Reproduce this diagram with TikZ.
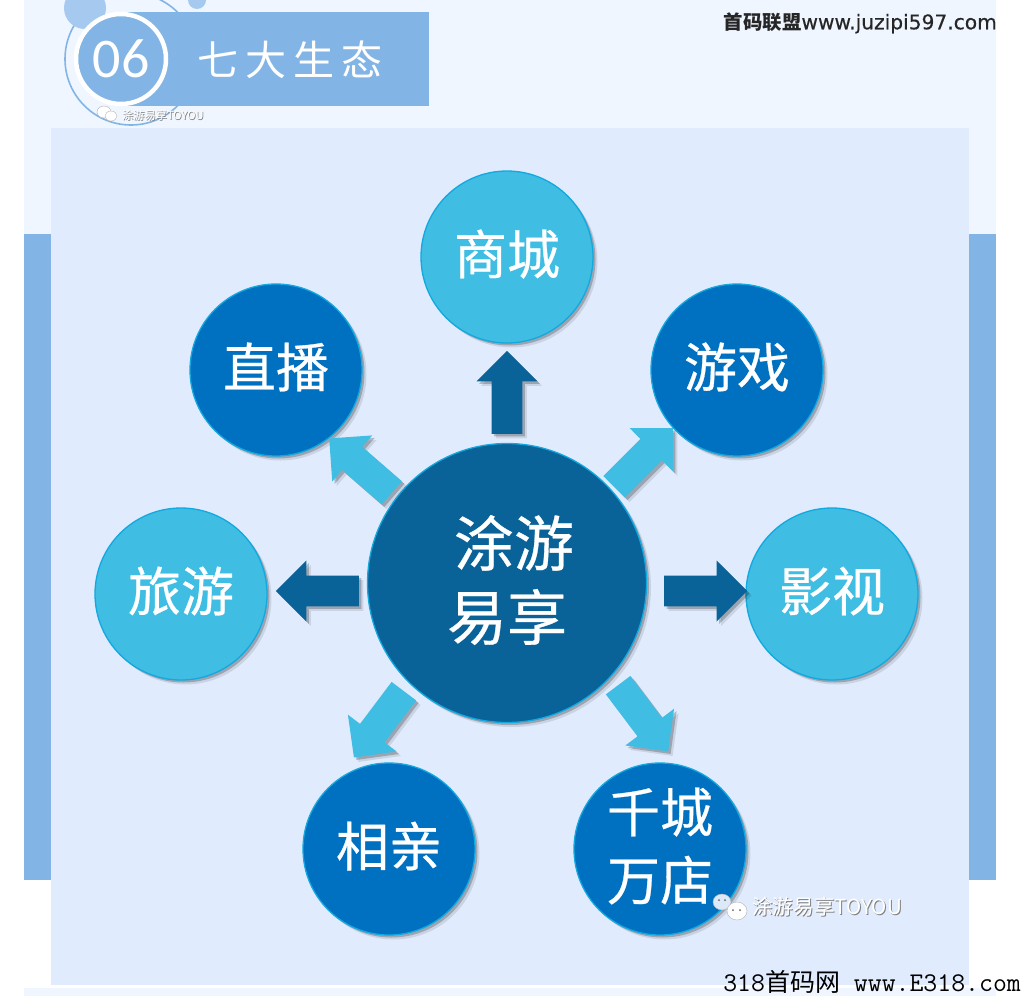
\documentclass[tikz,border=0pt]{standalone}
\usepackage{fontspec}
\setmainfont{Carlito}
\newfontfamily\cjkfont{Noto Sans CJK SC}
\newfontfamily\cjkmid[FakeBold=0.5]{Noto Sans CJK SC}
\newfontfamily\urlfont[FakeBold=0.4]{DejaVu Sans}
\usetikzlibrary{shapes.arrows,shadows}
\definecolor{pagepale}{HTML}{EFF6FF}
\definecolor{panelblue}{HTML}{E0ECFD}
\definecolor{bandblue}{HTML}{82B5E5}
\definecolor{blobblue}{HTML}{A5C9EF}
\definecolor{hubblue}{HTML}{0A6398}
\definecolor{skyblue}{HTML}{3FBDE3}
\definecolor{midblue}{HTML}{0070C0}
\definecolor{rimblue}{HTML}{12A8E0}
\tikzset{
  softshadow/.style={
    drop shadow={shadow xshift=4.5pt,shadow yshift=-4.5pt,fill=black,opacity=0.1},
    drop shadow={shadow xshift=2.5pt,shadow yshift=-2.5pt,fill=black,opacity=0.22}},
  bubble/.style={circle,draw=rimblue,line width=1.3pt,inner sep=0pt,minimum size=172pt,softshadow},
  bubbletext/.style={text=white,align=center,inner sep=0pt,yshift=3pt,font=\cjkmid\fontsize{53}{68}\selectfont},
  hubtext/.style={bubbletext,font=\cjkmid\fontsize{60}{74}\selectfont},
  blockarrow/.style={single arrow,anchor=tail,inner xsep=0pt,inner ysep=15pt,minimum width=61pt,
    single arrow head extend=15pt,single arrow tip angle=90,minimum height=83pt,softshadow},
  wmback/.style={inner sep=0pt,anchor=west,text=black!50},
  wmfront/.style={inner sep=0pt,anchor=west,text=white},
  chat/.style={fill=white,draw=black!30,line width=0.4pt},
}
\begin{document}
\begin{tikzpicture}[x=1pt,y=-1pt]
  \useasboundingbox (0,0) rectangle (1022,996);
  % backdrop
  \fill[white] (0,0) rectangle (1022,996);
  \fill[pagepale] (24,0) rectangle (996,234);
  \fill[bandblue] (24,234) rectangle (996,880);
  \fill[pagepale] (24,988) rectangle (996,996);
  \fill[panelblue] (51,128) rectangle (969,985);
  % header badge
  \draw[bandblue,line width=1.6pt] (131,59) circle (66);
  \fill[blobblue] (85,8) circle (21);
  \fill[blobblue] (197,0) circle (9);
  \fill[bandblue] (121,12) rectangle (429,106);
  \node[circle,draw=white,line width=4.5pt,fill=bandblue,minimum size=90pt,inner sep=0pt,
    text=white,font=\fontsize{56}{56}\selectfont] (badge) at (121,59) {06};
  \node[inner sep=0pt,text=white,font=\cjkfont\fontsize{41}{41}\selectfont] (title) at (290,60) {七\hspace{7pt}大\hspace{7pt}生\hspace{7pt}态};
  % hub
  \node[bubble,fill=hubblue,minimum size=279pt,label={[hubtext]center:\hspace{14pt}涂游\\易享}] (hub) at (507,583) {};
  % spokes
  \node[bubble,fill=skyblue,label={[bubbletext]center:商城}] (shop) at (507,257) {};
  \node[bubble,fill=midblue,label={[bubbletext]center:直播}] (live) at (276,370) {};
  \node[bubble,fill=midblue,label={[bubbletext]center:游戏}] (game) at (737,370) {};
  \node[bubble,fill=skyblue,label={[bubbletext]center:旅游}] (trip) at (181,594) {};
  \node[bubble,fill=skyblue,label={[bubbletext]center:影视}] (film) at (832,594) {};
  \node[bubble,fill=midblue,label={[bubbletext]center:相亲}] (date) at (389,849) {};
  \node[bubble,fill=midblue,label={[bubbletext]center:千城\\万店}] (store) at (660,849) {};
  % block arrows
  \node[blockarrow,fill=hubblue,rotate=90] (toshop) at (507,434) {};
  \node[blockarrow,fill=hubblue,rotate=180] (totrip) at (359,591) {};
  \node[blockarrow,fill=hubblue] (tofilm) at (664,591) {};
  \node[blockarrow,fill=skyblue,rotate=139] (tolive) at (392,493) {};
  \node[blockarrow,fill=skyblue,rotate=45] (togame) at (614,487) {};
  \node[blockarrow,fill=skyblue,rotate=233] (todate) at (404,691) {};
  \node[blockarrow,fill=skyblue,rotate=-53] (tostore) at (618,685) {};
  % watermark, top
  \draw[chat] (104,112) ellipse (7 and 6);
  \draw[chat] (111,116) ellipse (6 and 5);
  \node[wmback,font=\cjkfont\fontsize{11.2}{12}\selectfont] (wmtopback) at (122.8,115.8) {涂游易享TOYOU};
  \node[wmfront,font=\cjkfont\fontsize{11.2}{12}\selectfont] (wmtop) at (122,115) {涂游易享TOYOU};
  % watermark, bottom
  \draw[chat,fill=blobblue!40] (722,902) ellipse (9 and 8);
  \draw[chat] (737,911) ellipse (10 and 9);
  \fill[black!60] (719,900) circle (1) (725,900) circle (1) (733,910) circle (1) (740,910) circle (1);
  \node[wmback,font=\cjkfont\fontsize{20.6}{21}\selectfont] (wmbottomback) at (753,908) {涂游易享TOYOU};
  \node[wmfront,font=\cjkfont\fontsize{20.6}{21}\selectfont] (wmbottom) at (752,907) {涂游易享TOYOU};
  % site marks
  \node[inner sep=0pt,text=black!85,anchor=east,font=\urlfont\fontsize{20.2}{20}\selectfont] (brand) at (997,23) {{\cjkfont\bfseries\fontsize{19.4}{20}\selectfont 首码联盟}www.juzipi597.com};
  \node[inner sep=0pt,text=black,anchor=east,font=\ttfamily\fontsize{27}{27}\selectfont] (site) at (1021,982) {318{\cjkfont\fontsize{25}{25}\selectfont 首码网} www.E318.com};
\end{tikzpicture}
\end{document}
